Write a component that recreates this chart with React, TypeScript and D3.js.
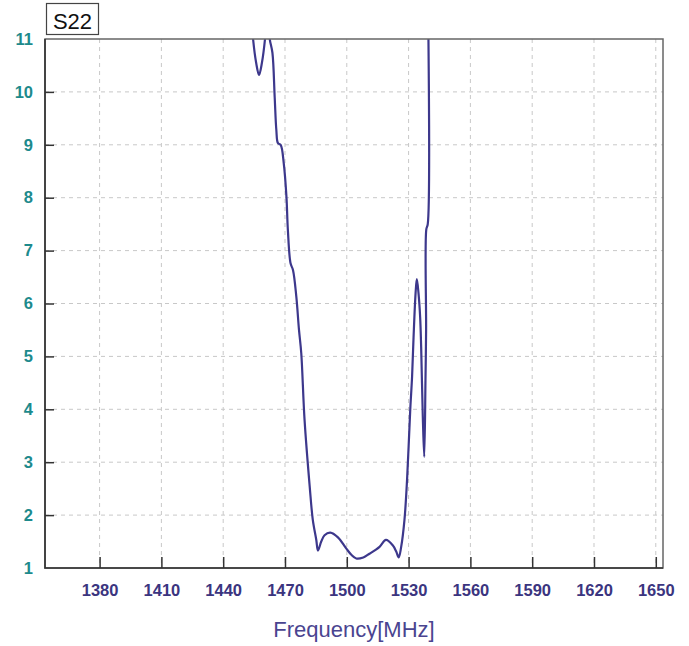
// S22 VSWR plot drawn with D3

import React, { useEffect, useRef } from 'react'
import * as d3 from 'd3'

const freqMHz = [
  1453.0, 1454.5, 1456.0, 1457.4, 1458.8, 1460.3, 1461.2, 1462.1, 1462.6, 1463.9,
  1465.0, 1465.8, 1466.6, 1467.9, 1469.4, 1470.7, 1471.4, 1472.7, 1473.9, 1475.5,
  1476.8, 1477.9, 1479.5, 1482.0, 1483.5, 1485.2, 1486.0, 1487.6, 1489.2, 1492.0,
  1495.7, 1499.7, 1502.2, 1504.6, 1508.0, 1511.0, 1515.9, 1519.0, 1522.3, 1524.0,
  1525.2, 1526.4, 1528.0, 1529.3, 1530.8, 1531.7, 1532.4, 1533.4, 1534.0, 1534.8,
  1535.6, 1536.1, 1536.9, 1537.6, 1538.2, 1538.5, 1538.6, 1539.3, 1539.35,
]
const vswr = [
  11.8, 11.0, 10.55, 10.32, 10.55, 11.0, 11.5, 11.4, 11.0, 10.74,
  9.9, 9.28, 9.03, 9.0, 8.65, 8.02, 7.39, 6.76, 6.63, 6.13,
  5.5, 5.06, 3.8, 2.54, 1.91, 1.53, 1.33, 1.5, 1.62, 1.67,
  1.58, 1.37, 1.25, 1.18, 1.2, 1.27, 1.4, 1.53, 1.43, 1.31,
  1.2, 1.4, 1.91, 2.7, 3.99, 4.62, 5.35, 6.2, 6.46, 6.2,
  5.75, 5.18, 3.86, 3.1, 4.55, 5.5, 7.4, 7.5, 12.0,
]
const xTicks = [1380, 1410, 1440, 1470, 1500, 1530, 1560, 1590, 1620, 1650]
const yTicks = [1, 2, 3, 4, 5, 6, 7, 8, 9, 10, 11]

const W = 689
const H = 646
const plot = { left: 45, right: 663, top: 39, bottom: 568 }
const font = '"Liberation Sans", Arial, sans-serif'

const App = () => {
  const ref = useRef<SVGSVGElement>(null)

  useEffect(() => {
    const svg = d3.select(ref.current)
    svg.selectAll('*').remove()

    const x = d3.scaleLinear().domain([1353.5, 1653.5]).range([plot.left, plot.right])
    const y = d3.scaleLinear().domain([1, 11]).range([plot.bottom, plot.top])

    svg.append('rect').attr('width', W).attr('height', H).attr('fill', 'white')

    // grid
    const grid = svg.append('g').attr('stroke', '#c8c8c8').attr('stroke-dasharray', '4,4')
    grid
      .selectAll('line.gx')
      .data(xTicks)
      .join('line')
      .attr('class', 'gx')
      .attr('x1', d => x(d))
      .attr('x2', d => x(d))
      .attr('y1', plot.top)
      .attr('y2', plot.bottom)
    grid
      .selectAll('line.gy')
      .data(yTicks.filter(d => d > 1 && d < 11))
      .join('line')
      .attr('class', 'gy')
      .attr('x1', plot.left)
      .attr('x2', plot.right)
      .attr('y1', d => y(d))
      .attr('y2', d => y(d))

    // curve
    svg
      .append('clipPath')
      .attr('id', 'plot-clip')
      .append('rect')
      .attr('x', plot.left)
      .attr('y', plot.top)
      .attr('width', plot.right - plot.left)
      .attr('height', plot.bottom - plot.top)

    const pts = freqMHz.map((f, i) => [f, vswr[i]] as [number, number])
    svg
      .append('path')
      .datum(pts)
      .attr('clip-path', 'url(#plot-clip)')
      .attr('fill', 'none')
      .attr('stroke', '#3d388c')
      .attr('stroke-width', 2.2)
      .attr('stroke-linejoin', 'round')
      .attr(
        'd',
        d3
          .line()
          .curve(d3.curveCatmullRom.alpha(0.5))
          .x(d => x(d[0]))
          .y(d => y(d[1]))
      )

    // frame
    svg
      .append('rect')
      .attr('x', plot.left)
      .attr('y', plot.top)
      .attr('width', plot.right - plot.left)
      .attr('height', plot.bottom - plot.top)
      .attr('fill', 'none')
      .attr('stroke', '#666')
      .attr('stroke-width', 1.5)
    svg
      .append('path')
      .attr('d', `M${plot.left},${plot.top}V${plot.bottom}H${plot.right}`)
      .attr('fill', 'none')
      .attr('stroke', '#333')
      .attr('stroke-width', 1.6)

    // x axis
    const xAxis = svg
      .append('g')
      .attr('transform', `translate(0, ${plot.bottom})`)
      .call(
        d3
          .axisBottom(x)
          .tickValues(xTicks)
          .tickSize(-11)
          .tickSizeOuter(0)
          .tickPadding(16)
          .tickFormat(d3.format('d'))
      )
    xAxis.select('.domain').remove()
    xAxis.selectAll('line').attr('stroke', '#333').attr('stroke-width', 1.5)
    xAxis
      .selectAll('text')
      .attr('fill', '#3b357f')
      .style('font-family', font)
      .style('font-size', '16.5px')
      .style('font-weight', 'bold')

    // y axis
    const yAxis = svg
      .append('g')
      .attr('transform', `translate(${plot.left}, 0)`)
      .call(d3.axisLeft(y).tickValues(yTicks).tickSize(-9).tickSizeOuter(0).tickPadding(12))
    yAxis.select('.domain').remove()
    yAxis
      .selectAll('line')
      .attr('stroke', '#333')
      .attr('stroke-width', 1.5)
      .attr('display', (d: any) => (d === 1 || d === 11 ? 'none' : null))
    yAxis
      .selectAll('text')
      .attr('fill', '#1d8a8c')
      .style('font-family', font)
      .style('font-size', '16.5px')
      .style('font-weight', 'bold')

    // axis title
    svg
      .append('text')
      .attr('x', 354)
      .attr('y', 637)
      .attr('text-anchor', 'middle')
      .attr('fill', '#4a4490')
      .style('font-family', font)
      .style('font-size', '22px')
      .text('Frequency[MHz]')

    // trace label box
    svg
      .append('rect')
      .attr('x', 46.5)
      .attr('y', 3.5)
      .attr('width', 52)
      .attr('height', 31)
      .attr('fill', 'white')
      .attr('stroke', '#444')
      .attr('stroke-width', 1.2)
    svg
      .append('text')
      .attr('x', 72.5)
      .attr('y', 28.5)
      .attr('text-anchor', 'middle')
      .attr('fill', '#111')
      .style('font-family', font)
      .style('font-size', '22px')
      .text('S22')
  }, [])

  return (
    <svg
      ref={ref}
      width={W}
      height={H}
      style={{ position: 'absolute', left: 0, top: 0 }}
    />
  )
}

export default App
